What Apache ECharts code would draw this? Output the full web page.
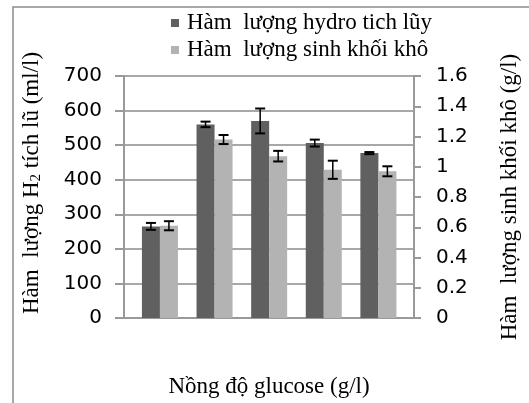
<!DOCTYPE html>
<html>
<head>
<meta charset="utf-8">
<script src="https://cdn.jsdelivr.net/npm/echarts@6/dist/echarts.min.js"></script>
<style>
html,body{margin:0;padding:0;background:#fff;}
#chart{width:529px;height:403px;}
</style>
</head>
<body>
<div id="chart"></div>
<script>
// ---- data ----
var categoryPositions = [1, 2, 3, 4, 5];
var hydroValues = [265, 560, 570, 506, 477];
var hydroErrors = [10, 8, 36, 10, 3];
var biomassValues = [0.61, 1.18, 1.07, 0.98, 0.97];
var biomassErrors = [0.03, 0.03, 0.035, 0.06, 0.033];
var seriesNames = ['Hàm  lượng hydro tich lũy', 'Hàm  lượng sinh khối khô'];
var leftAxisName = 'Hàm  lượng H{sub|2} tích lũ (ml/l)';
var rightAxisName = 'Hàm  lượng sinh khối khô (g/l)';
var xAxisName = 'Nồng độ glucose (g/l)';

var BAR_W = 18;
var serif = '"Liberation Serif", "DejaVu Serif", serif';
var sans = '"DejaVu Sans", sans-serif';

function pairs(xs, ys) { return xs.map(function (x, i) { return [x, ys[i]]; }); }
function errData(xs, ys, es) { return xs.map(function (x, i) { return [x, ys[i] - es[i], ys[i] + es[i]]; }); }

function errRender(offset) {
  return function (params, api) {
    var lo = api.coord([api.value(0), api.value(1)]);
    var hi = api.coord([api.value(0), api.value(2)]);
    var cx = lo[0] + offset;
    var cap = 5;
    return {
      type: 'group',
      children: [
        { type: 'line', shape: { x1: cx, y1: lo[1], x2: cx, y2: hi[1] }, style: { stroke: '#000', lineWidth: 1.5 } },
        { type: 'line', shape: { x1: cx - cap, y1: lo[1], x2: cx + cap, y2: lo[1] }, style: { stroke: '#000', lineWidth: 2 } },
        { type: 'line', shape: { x1: cx - cap, y1: hi[1], x2: cx + cap, y2: hi[1] }, style: { stroke: '#000', lineWidth: 2 } }
      ]
    };
  };
}

var chart = echarts.init(document.getElementById('chart'), null, { renderer: 'canvas' });
chart.setOption({
  animation: false,
  backgroundColor: '#fff',
  graphic: [{
    type: 'rect', shape: { x: 13, y: 7, width: 700, height: 600 },
    style: { fill: 'none', stroke: '#8c8c8c', lineWidth: 1.5 }, silent: true, z: -1
  }],
  legend: {
    orient: 'vertical', left: 166, top: 6, itemWidth: 8, itemHeight: 8, itemGap: 3,
    icon: 'rect',
    textStyle: { fontFamily: serif, fontSize: 23, color: '#000', lineHeight: 24, padding: [0, 0, 0, 3] },
    data: seriesNames
  },
  grid: { left: 124, right: 101, top: 76, height: 243.3, containLabel: false },
  xAxis: {
    type: 'value', min: 0.342, max: 5.652,
    axisLine: { show: true, onZero: false, lineStyle: { color: '#999', width: 2 } },
    axisTick: { show: false }, axisLabel: { show: false }, splitLine: { show: false },
    name: xAxisName, nameLocation: 'middle', nameGap: 57,
    nameTextStyle: { fontFamily: serif, fontSize: 23, color: '#000' }
  },
  yAxis: [{
    type: 'value', min: 0, max: 700, interval: 100, position: 'left',
    axisLine: { show: true, lineStyle: { color: '#999', width: 2 } },
    axisTick: { show: true, length: 9, lineStyle: { color: '#999', width: 2 } },
    axisLabel: { margin: 22, fontFamily: sans, fontSize: 20, color: '#000' },
    splitLine: { show: true, lineStyle: { color: '#a8a8a8', width: 2 } },
    name: leftAxisName, nameLocation: 'middle', nameGap: 80, nameRotate: 90,
    nameTextStyle: {
      fontFamily: serif, fontSize: 23, color: '#000', padding: [0, 0, 0, 28],
      rich: { sub: { fontFamily: serif, fontSize: 15, verticalAlign: 'bottom', padding: [10, 0, 0, 0] } }
    }
  }, {
    type: 'value', min: 0, max: 1.6, interval: 0.2, position: 'right',
    axisLine: { show: true, lineStyle: { color: '#999', width: 2 } },
    axisTick: { show: true, length: 7, lineStyle: { color: '#999', width: 2 } },
    axisLabel: { margin: 22, fontFamily: sans, fontSize: 20, color: '#000' },
    splitLine: { show: false },
    name: rightAxisName, nameLocation: 'middle', nameGap: 84, nameRotate: 90,
    nameTextStyle: { fontFamily: serif, fontSize: 23, color: '#000' }
  }],
  series: [{
    name: seriesNames[0], type: 'bar', yAxisIndex: 0, barWidth: BAR_W, barGap: '0%',
    itemStyle: { color: '#606060' }, data: pairs(categoryPositions, hydroValues)
  }, {
    name: seriesNames[1], type: 'bar', yAxisIndex: 1, barWidth: BAR_W, barGap: '0%',
    itemStyle: { color: '#b3b3b3' }, data: pairs(categoryPositions, biomassValues)
  }, {
    type: 'custom', yAxisIndex: 0, renderItem: errRender(-BAR_W / 2),
    encode: { x: 0, y: [1, 2] }, data: errData(categoryPositions, hydroValues, hydroErrors), z: 5
  }, {
    type: 'custom', yAxisIndex: 1, renderItem: errRender(BAR_W / 2),
    encode: { x: 0, y: [1, 2] }, data: errData(categoryPositions, biomassValues, biomassErrors), z: 5
  }]
});
</script>
</body>
</html>
